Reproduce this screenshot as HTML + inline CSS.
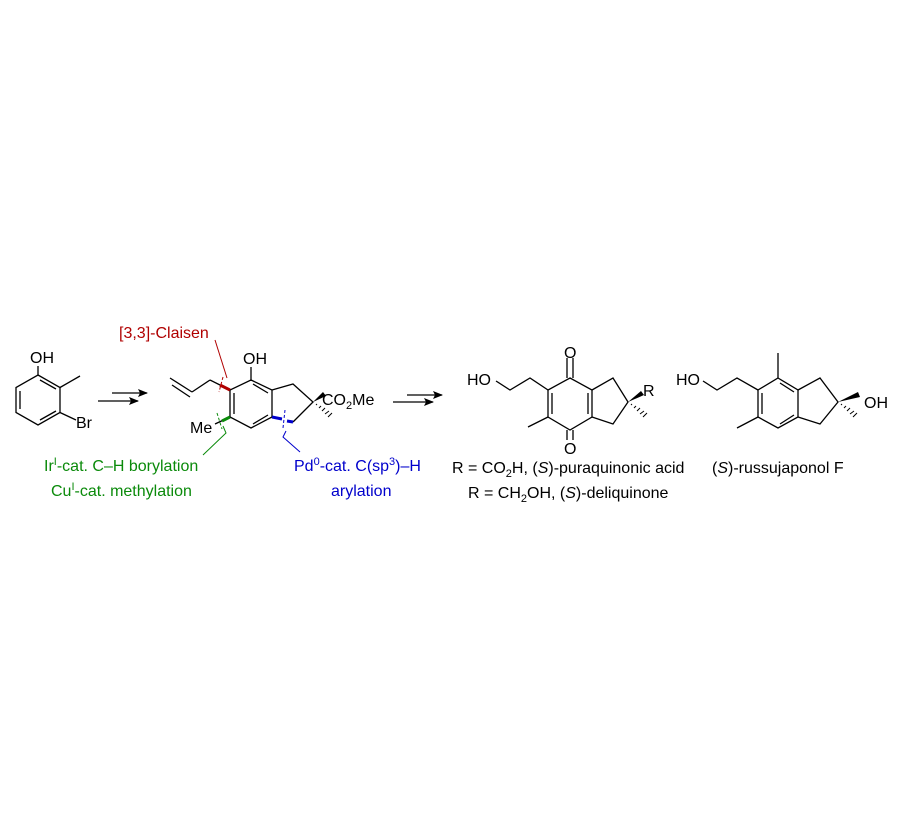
<!DOCTYPE html>
<html><head><meta charset="utf-8"><style>
body{margin:0;background:#fff}
svg{display:block}
text{font-family:"Liberation Sans",Arial,sans-serif;font-size:16px}
</style></head><body>
<svg width="913" height="822" viewBox="0 0 913 822" xmlns="http://www.w3.org/2000/svg">
<defs>
<marker id="ah" markerWidth="10" markerHeight="8" refX="9" refY="4" orient="auto" markerUnits="userSpaceOnUse"><path d="M0,0 L10,4 L0,8 L2,4Z" fill="#000"/></marker>
</defs>
<g stroke="#000" stroke-width="1.3" fill="none">
<path d="M38,375 L60,387.5 L60,412.5 L38,425 L16,412.5 L16,387.5 Z"/>
<path d="M20,391 L20,409 M40,420 L56,411 M40,380 L56,389"/>
<path d="M38,375 L38,366 M60,387.5 L80,376 M60,412.5 L76,420"/>
<line x1="112" y1="393" x2="147" y2="393" marker-end="url(#ah)"/>
<line x1="98" y1="401" x2="138" y2="401" marker-end="url(#ah)"/>
<path d="M251,380 L272,390 L272,417 L251,428 L230,417 L230,390 Z"/>
<path d="M234,393 L234,414 M253,384 L268,393 M253,424 L268,415"/>
<path d="M251,380 L251,367"/>
<path d="M192,392 L170,378 M190,397 L172,385 M192,392 L210,380"/>
<path d="M272,390 L293,384 L313,402 L293,422"/>
<path d="M230,417 L215,424"/>
<line x1="407" y1="395" x2="442" y2="395" marker-end="url(#ah)"/>
<line x1="393" y1="402" x2="433" y2="402" marker-end="url(#ah)"/>
<path d="M570,378 L592,390 L592,417 L570,430 L548,417 L548,390 Z"/>
<path d="M552,393 L552,414 M588,393 L588,414"/>
<path d="M567,378 L567,358 M573,378 L573,358 M567,430 L567,440 M573,430 L573,440"/>
<path d="M548,390 L530,378 L510,390 L496,381 M548,417 L528,427"/>
<path d="M592,390 L613,378 L628,402 L613,424 L592,417"/>
<path d="M778,378 L798,390 L798,417 L778,428 L758,417 L758,390 Z"/>
<path d="M762,393 L762,414 M780,383 L794,392 M780,424 L794,415"/>
<path d="M778,378 L778,353 M758,390 L737,378 L717,390 L703,381 M758,417 L737,428"/>
<path d="M798,390 L820,378 L838,402 L820,424 L798,417"/>
</g>
<polygon points="313,402 323,392 326,396" fill="#000"/>
<polygon points="628,402 641,391 644,395" fill="#000"/>
<polygon points="838,402 858,392 860,397" fill="#000"/>
<g stroke="#000" stroke-width="1">
<path d="M316,405 L317,404 M319,408 L321,406 M322,411 L325,408 M325,414 L329,411 M328,417 L332,413"/>
<path d="M631,405 L632,404 M634,408 L636,406 M637,411 L640,408 M640,414 L644,411 M643,417 L647,413"/>
<path d="M841,405 L842,404 M844,408 L846,406 M847,411 L850,408 M850,414 L854,411 M853,417 L857,413"/>
</g>
<line x1="230" y1="390" x2="220" y2="385" stroke="#b00000" stroke-width="3"/>
<line x1="220" y1="385" x2="210" y2="380" stroke="#000" stroke-width="1.3"/>
<path d="M223,377 L219,392" stroke="#b00000" stroke-width="1" stroke-dasharray="3,2"/>
<path d="M215,340 L227,378" stroke="#b00000" stroke-width="1"/>
<line x1="230" y1="417" x2="222" y2="421" stroke="#0a8a0a" stroke-width="3"/>
<path d="M217,413 L222,429" stroke="#0a8a0a" stroke-width="1" stroke-dasharray="3,2"/>
<path d="M203,455 L226,433 L223,426" stroke="#0a8a0a" stroke-width="1" fill="none"/>
<line x1="272" y1="417" x2="282" y2="419" stroke="#0000cc" stroke-width="3"/>
<line x1="293" y1="422" x2="287" y2="421" stroke="#0000cc" stroke-width="3"/>
<path d="M285,410 L283,428" stroke="#0000cc" stroke-width="1" stroke-dasharray="3,2"/>
<path d="M300,452 L283,437 L286,431" stroke="#0000cc" stroke-width="1" fill="none"/>
<text x="30" y="363">OH</text>
<text x="76" y="428">Br</text>
<text x="243" y="364">OH</text>
<text x="322" y="405">CO<tspan font-size="11" dy="4">2</tspan><tspan dy="-4">Me</tspan></text>
<text x="190" y="433">Me</text>
<text x="119" y="338" fill="#b00000">[3,3]-Claisen</text>
<text x="44" y="471" fill="#0a8a0a">Ir<tspan font-size="11" dy="-6">I</tspan><tspan dy="6">-cat. C–H borylation</tspan></text>
<text x="51" y="496" fill="#0a8a0a">Cu<tspan font-size="11" dy="-6">I</tspan><tspan dy="6">-cat. methylation</tspan></text>
<text x="294" y="471" fill="#0000cc">Pd<tspan font-size="11" dy="-6">0</tspan><tspan dy="6">-cat. C(sp</tspan><tspan font-size="11" dy="-6">3</tspan><tspan dy="6">)–H</tspan></text>
<text x="331" y="496" fill="#0000cc">arylation</text>
<text x="564" y="358">O</text>
<text x="564" y="454">O</text>
<text x="467" y="385">HO</text>
<text x="643" y="396">R</text>
<text x="452" y="473">R = CO<tspan font-size="11" dy="4">2</tspan><tspan dy="-4">H, (</tspan><tspan font-style="italic">S</tspan>)-puraquinonic acid</text>
<text x="468" y="498">R = CH<tspan font-size="11" dy="4">2</tspan><tspan dy="-4">OH, (</tspan><tspan font-style="italic">S</tspan>)-deliquinone</text>
<text x="676" y="385">HO</text>
<text x="864" y="408">OH</text>
<text x="712" y="473">(<tspan font-style="italic">S</tspan>)-russujaponol F</text>
</svg>
</body></html>
